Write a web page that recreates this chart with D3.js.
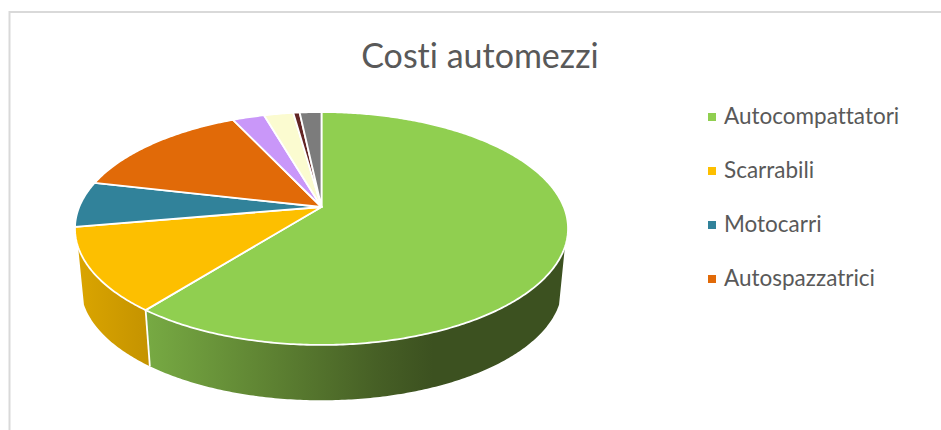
<!DOCTYPE html>
<html>
<head>
<meta charset="utf-8">
<script src="https://cdnjs.cloudflare.com/ajax/libs/d3/7.8.5/d3.min.js"></script>
<style>
  html, body { margin: 0; padding: 0; background: #fff; }
  svg { display: block; }
  text { font-family: Lato, "Open Sans", sans-serif; fill: #595959; font-variant-ligatures: none; }
</style>
</head>
<body>
<div id="chart"></div>
<script>
// values, in percent, clockwise from 12 o'clock
const shares = [60.6, 11.6, 6.3, 14.4, 2.5, 2.3, 0.5, 1.7];
const colors = ['#90cf50', '#fdbf00', '#31829a', '#e16a08', '#c997f9', '#fbfbd0', '#632523', '#7c7c7c'];
// the legend in the source is cut off after four entries
const legendLabels = ['Autocompattatori', 'Scarrabili', 'Motocarri', 'Autospazzatrici'];
const chartTitle = 'Costi automezzi';

const WIDTH = 941;
const HEIGHT = 430;

// perspective constants of the disc, apex of the slices is at APEX_X, APEX_Y
const APEX_X = 321.5;
const APEX_Y = 207;
const RADIUS_X = 242.3;
const RADIUS_Y = 112.5;
const TILT = 0.1845;

// the lower face of the disc is the upper one shrunk towards a far vanishing point
const SHRINK = 0.976;
const VANISH_Y = 2650;

// part of the rim that can be seen, radians clockwise from the top
const RIM_START = 109.5 * Math.PI / 180;
const RIM_END = 250.5 * Math.PI / 180;

function topPoint(a) {
    const u = Math.sin(a);
    const v = -Math.cos(a);
    const w = 1 - TILT * v;
    return [APEX_X + RADIUS_X * u / w, APEX_Y + RADIUS_Y * v / w];
}

function bottomPoint(a) {
    const p = topPoint(a);
    return [APEX_X + SHRINK * (p[0] - APEX_X), VANISH_Y - SHRINK * (VANISH_Y - p[1])];
}

function arcPoints(a0, a1, fn) {
    const n = Math.max(2, Math.ceil(Math.abs(a1 - a0) * 90));
    return d3.range(n + 1).map(i => fn(a0 + (a1 - a0) * i / n));
}

const svg = d3.select('#chart').append('svg')
    .attr('width', WIDTH)
    .attr('height', HEIGHT);

// chart frame, only top and left are in the crop
svg.append('path')
    .attr('d', `M9.5,${HEIGHT} V12 H${WIDTH}`)
    .attr('fill', 'none')
    .attr('stroke', '#d9d9d9')
    .attr('stroke-width', 2);

const slices = d3.pie().sort(null).value(d => d)(shares);
const line = d3.line();

// rim gradients, one per visible colour
const defs = svg.append('defs');
function rimGradient(id, x1, x2, stops) {
    const g = defs.append('linearGradient')
        .attr('id', id)
        .attr('gradientUnits', 'userSpaceOnUse')
        .attr('x1', x1).attr('x2', x2)
        .attr('y1', 0).attr('y2', 0);
    stops.forEach(s => g.append('stop').attr('offset', s[0]).attr('stop-color', s[1]));
}
rimGradient('rim0', 146, 568, [[0, '#77aa43'], [0.28, '#5f8433'], [0.55, '#465f25'], [0.68, '#3c5120'], [1, '#3c5120']]);
rimGradient('rim1', 76, 150, [[0, '#dba500'], [1, '#c49300']]);

// rim first so the top face and its white edges sit over it
slices.forEach((s, i) => {
    const a0 = Math.max(s.startAngle, RIM_START);
    const a1 = Math.min(s.endAngle, RIM_END);
    if (a1 <= a0) return;
    const pts = arcPoints(a0, a1, topPoint).concat(arcPoints(a1, a0, bottomPoint));
    svg.append('path')
        .attr('d', line(pts) + 'Z')
        .attr('fill', `url(#rim${i})`);
});

// white seam between the two rim pieces
const seam = slices[0].endAngle;
svg.append('path')
    .attr('d', line([topPoint(seam), bottomPoint(seam)]))
    .attr('stroke', '#fff')
    .attr('stroke-width', 1.8);

// top face
slices.forEach((s, i) => {
    const pts = [[APEX_X, APEX_Y]].concat(arcPoints(s.startAngle, s.endAngle, topPoint));
    svg.append('path')
        .attr('d', line(pts) + 'Z')
        .attr('fill', colors[i])
        .attr('stroke', '#fff')
        .attr('stroke-width', 1.8)
        .attr('stroke-linejoin', 'round');
});

// title
svg.append('text')
    .attr('x', 480)
    .attr('y', 68)
    .attr('text-anchor', 'middle')
    .style('font-size', '34px')
    .text(chartTitle);

// legend
const legendY = d3.scalePoint()
    .domain(legendLabels)
    .range([117, 279]);

const legend = svg.selectAll('.legend-item')
    .data(legendLabels)
    .enter().append('g')
    .attr('class', 'legend-item')
    .attr('transform', d => `translate(708, ${legendY(d)})`);

legend.append('rect')
    .attr('x', 0)
    .attr('y', -4)
    .attr('width', 8)
    .attr('height', 8)
    .attr('fill', (d, i) => colors[i]);

legend.append('text')
    .attr('x', 16)
    .attr('y', 7)
    .style('font-size', '22.5px')
    .text(d => d);
</script>
</body>
</html>
